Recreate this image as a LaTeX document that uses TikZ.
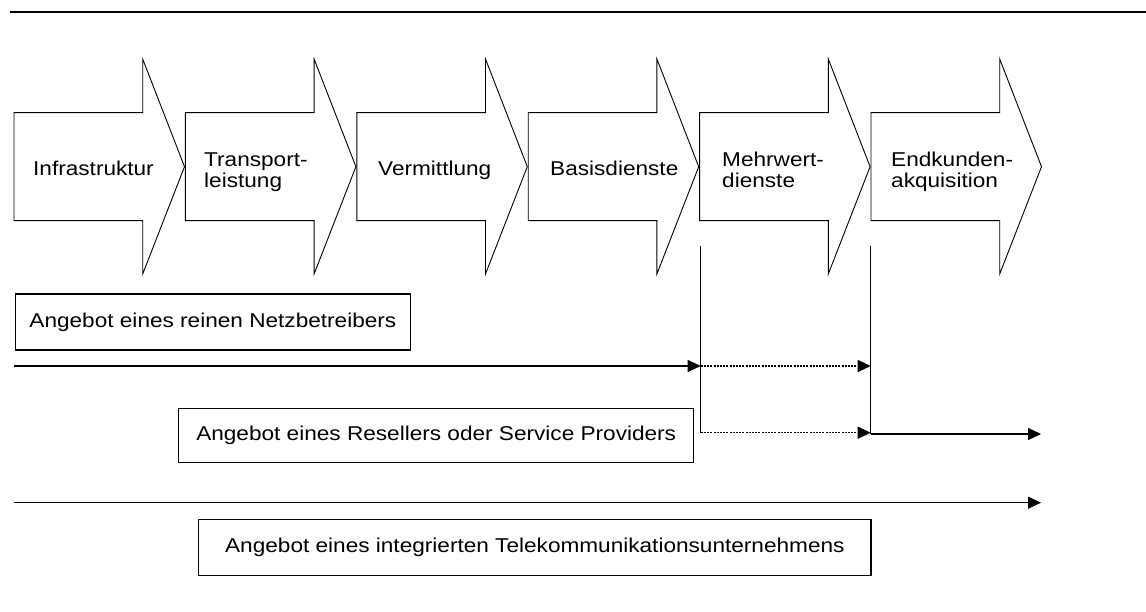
\documentclass[tikz,border=0pt]{standalone}
\usepackage{fontspec}
\setmainfont{Liberation Sans}[FakeStretch=1.13]
\usetikzlibrary{arrows.meta}
\begin{document}
\begin{tikzpicture}[x=1pt,y=-1pt,
  chev/.style={draw=black, line width=0.9pt, line join=miter},
  lbl/.style={anchor=base west, inner sep=0pt, font=\fontsize{20}{20}\selectfont},
  offer/.style={draw=black, line width=1.1pt, inner sep=0pt, font=\fontsize{20}{20}\selectfont},
  flow/.style={line width=1.3pt, -{Triangle[length=13pt,width=12pt]}},
  dflow/.style={flow, dash pattern=on 2pt off 1.2pt},
  tick/.style={line width=1pt}]
\useasboundingbox[fill=white] (0,0) rectangle (1146,612);
% top rule
\coordinate (tl) at (10,12);
\coordinate (tr) at (1146,12);
\draw[line width=2.5pt] (tl) -- (tr);
% chevron arrows
\foreach \i in {0,...,5}{
  \pgfmathsetmacro{\L}{14+171.4*\i}
  \draw[chev] (\L,112.7) -- ({\L+128.7},112.7) -- ({\L+128.7},59) -- ({\L+170.5},166.7)
     -- ({\L+128.7},274) -- ({\L+128.7},220.7) -- (\L,220.7) -- cycle;
}
\node[lbl] (a1) at (33,176) {Infrastruktur};
\node[lbl] (a2) at (204,167) {\begin{tabular}[t]{@{}l@{}}Transport-\\leistung\end{tabular}};
\node[lbl] (a3) at (378,176) {Vermittlung};
\node[lbl] (a4) at (550,176) {Basisdienste};
\node[lbl] (a5) at (722,167) {\begin{tabular}[t]{@{}l@{}}Mehrwert-\\dienste\end{tabular}};
\node[lbl] (a6) at (891,167) {\begin{tabular}[t]{@{}l@{}}Endkunden-\\akquisition\end{tabular}};
% offer boxes
\node[offer, minimum width=395.7pt, minimum height=56pt] (b1) at (212.9,322) {Angebot eines reinen Netzbetreibers};
\node[offer, minimum width=515pt, minimum height=54pt] (b2) at (436.2,435.6) {Angebot eines Resellers oder Service Providers};
\node[offer, minimum width=672.3pt, minimum height=55.7pt] (b3) at (534.85,547.2) {Angebot eines integrierten Telekommunikationsunternehmens};
% coordinates for flows
\coordinate (r1s) at (14,366);
\coordinate (m1) at (700.7,366);
\coordinate (e1) at (870.7,366);
\coordinate (v1t) at (700.7,246);
\coordinate (v1b) at (700.7,432.7);
\coordinate (e2d) at (870.7,432.7);
\coordinate (v2t) at (870.7,246);
\coordinate (v2b) at (870.7,434);
\coordinate (r2e) at (1041,434);
\coordinate (r3s) at (14,502.7);
\coordinate (r3e) at (1041,502.7);
% vertical markers
\draw[tick] (v1t) -- (v1b);
\draw[tick] (v2t) -- (v2b);
% flows
\draw[flow] (r1s) -- (m1);
\draw[dflow] (m1) -- (e1);
\draw[dflow] (v1b) -- (e2d);
\draw[flow] (v2b) -- (r2e);
\draw[flow] (r3s) -- (r3e);
\end{tikzpicture}
\end{document}
